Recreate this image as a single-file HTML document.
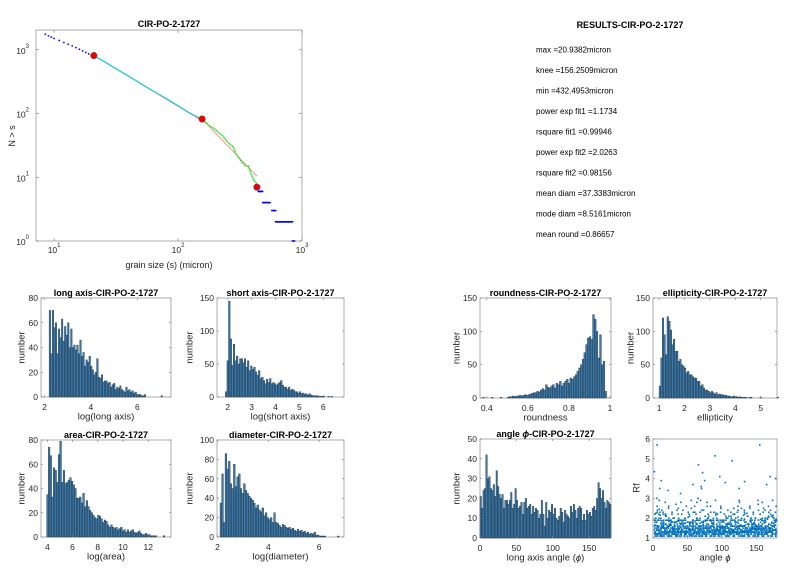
<!DOCTYPE html>
<html><head><meta charset="utf-8"><style>
body{margin:0;background:#fff;}
svg{display:block;font-family:"Liberation Sans",Arial,sans-serif;}
</style></head><body>
<svg id="fig" width="804" height="570" viewBox="0 0 804 570" xmlns="http://www.w3.org/2000/svg"></svg>
<script>
// ---- main CCDF data ----
const headS=[8.5,9,9.5,10,11,12,13,14,15,16,17,18,19,20];
const headN=[1750,1650,1580,1500,1400,1300,1220,1150,1080,1020,960,910,860,820];
const midS=[21,25,30,40,50,60,80,100,120,140,156];
const midN=[800,665,535,385,295,238,172,132,106,90,82];
const tailS=[156,180,200,230,260,280,290,310,330,350,370,390,410,430];
const tailN=[80,64,56,44,33,30,24,20,17,15,15,11,9,8];
const endS=[450,460,470,490,500,520,540,580,600,620,640,660,680,700,720,740,760,780,800,820,850];
const endN=[6,6,6,4,4,4,4,3,3,2,2,2,2,2,2,2,2,2,2,2,1];
const kneeS=[20.9382,156.2509,432.4953];
const kneeN=[810,82,7];
const fitExp=[1.1734,2.0263];
// ---- histogram data ----
const longVals=[70,35,70,56,60,35,55,48,63,45,57,50,60,40,55,40,42,38,42,35,46,33,36,25,30,28,33,25,22,18,20,31,16,15,18,12,13,13,11,12,8,10,11,6,8,7,9,6,5,4,8,5,6,4,5,3,4,2,2,2,1,1,2,0,0,0,0,0,0,0,0,0,0,1];
const shortVals=[8,55,145,88,48,80,55,62,50,58,58,52,58,45,55,40,47,42,45,38,33,40,28,30,25,20,27,22,28,20,22,20,18,20,22,25,18,15,15,12,15,10,12,10,8,8,6,8,5,6,4,5,3,5,3,2,2,2,2,1,1,1,1,0,0,1,0,1];
const areaVals=[35,74,67,33,57,55,45,68,79,45,55,44,45,47,49,46,43,40,32,32,33,28,36,25,30,25,22,20,18,16,15,18,17,15,12,14,13,10,8,10,8,7,8,6,7,8,5,6,4,6,4,5,6,4,3,4,5,3,2,2,3,2,2,1,1,1,1,0,0,0,0,1];
const diamVals=[35,65,15,86,70,78,55,50,75,52,62,65,50,45,55,48,45,42,40,38,35,30,33,28,26,30,22,25,20,18,20,15,25,15,14,12,10,13,12,10,9,10,8,9,7,6,8,6,7,5,6,4,5,3,4,3,5,2,2,1,1,1,1,0,0,0,0,0,0,0,1];
const roundVals=[1,0,0,0,0,1,0,0,0,0,1,0,0,0,1,2,2,3,2,3,3,4,3,4,5,4,5,6,7,8,8,10,9,12,14,12,20,16,15,18,20,15,22,20,25,18,22,25,28,22,30,28,32,35,40,45,50,58,68,80,90,92,88,125,118,100,60,95,50,55,10];
const ellipVals=[18,60,120,95,65,122,115,102,80,88,70,70,55,58,50,48,45,38,40,35,35,32,30,30,25,25,18,20,15,12,12,10,8,10,8,6,8,5,6,5,5,4,4,3,3,2,2,3,2,2,1,2,1,1,1,1,0,1,1,0,0,0,0,0,1,0,0,0,0,0,0,0,0,0,0,1];
const angleVals=[21,15,24,25,42,30,31,25,24,27,21,34,26,22,20,22,15,19,19,17,19,23,15,17,25,19,15,16,18,12,18,20,15,16,17,12,16,13,15,14,10,12,19,12,6,18,10,14,13,17,12,15,10,9,11,15,13,8,14,12,11,10,16,13,17,14,10,15,16,15,9,12,9,14,12,13,11,15,16,14,20,28,25,20,24,18,15,19,18,17];
// ---- scatter data ----
const scAngle=[2,3,5,6,8,9,11,12,14,15,17,18,20,22,23,25,27,28,30,31,33,35,36,38,40,41,43,45,46,48,50,52,53,55,57,58,60,62,63,65,67,68,70,72,73,75,77,78,80,82,83,85,87,88,90,92,93,95,97,98,100,102,103,105,107,108,110,112,113,115,117,118,120,122,123,125,127,128,130,132,133,135,137,138,140,142,143,145,147,148,150,152,153,155,157,158,160,162,163,165,167,168,170,172,173,175,177,178];
const scRf1=[1.4,1.8,1.2,2.6,1.5,1.3,1.9,1.1,1.6,2.2,1.3,1.7,1.2,1.5,2.0,1.4,1.1,1.8,1.3,1.6,1.2,2.4,1.5,1.3,1.7,1.1,1.4,1.9,1.2,1.6,1.3,1.5,2.1,1.2,1.4,1.8,1.1,1.6,1.3,1.5,1.2,1.9,1.4,1.1,1.7,1.3,1.5,1.2,2.2,1.4,1.1,1.6,1.3,1.8,1.2,1.5,1.4,1.1,1.7,1.3,1.6,1.2,1.9,1.4,1.1,1.5,1.3,1.8,1.2,1.6,1.4,1.1,1.7,1.3,1.5,1.2,1.9,1.4,1.6,1.1,1.3,1.8,1.5,1.2,1.4,2.0,1.3,1.6,1.1,1.7,1.4,1.2,1.9,1.5,1.3,1.6,2.3,1.2,1.8,1.4,1.1,1.7,1.5,2.1,1.3,1.6,1.9,1.2];
const scRf2=[2.2,1.3,3.0,1.6,2.0,3.5,1.4,2.4,1.2,1.5,2.8,1.3,1.9,2.6,1.2,1.7,2.3,1.4,2.0,1.2,1.8,1.5,2.5,1.9,1.3,2.2,1.6,1.3,2.0,1.4,1.8,1.2,1.6,2.5,1.9,1.3,2.3,1.5,2.8,1.9,1.6,1.3,2.4,1.8,1.5,2.1,1.3,2.6,1.5,1.9,2.3,1.3,2.0,1.5,2.9,1.7,2.2,1.4,1.9,2.5,1.3,1.8,1.4,2.1,1.7,2.4,1.5,1.3,2.0,1.4,1.9,2.2,1.3,1.8,2.4,1.6,1.3,2.0,1.5,2.3,1.8,1.4,2.1,1.6,2.5,1.3,1.9,2.2,1.5,2.0,1.3,2.7,1.6,2.2,1.9,2.8,1.5,2.4,1.3,2.0,2.6,1.5,2.2,1.8,2.9,1.4,2.3,2.6];
const scRf3=[1.1,2.0,1.6,1.2,2.9,1.1,1.6,1.3,1.9,1.1,1.5,2.1,1.3,1.1,1.4,1.9,1.3,1.2,1.6,1.4,1.1,1.3,1.2,1.6,1.4,1.3,1.9,1.2,1.5,1.1,2.3,1.4,1.3,1.1,1.6,1.2,1.4,1.9,1.2,1.1,1.4,1.6,1.2,1.5,1.3,1.1,1.7,1.4,1.2,1.3,1.5,1.9,1.1,1.3,1.4,1.2,1.6,1.3,1.2,1.1,1.5,1.3,1.2,1.3,1.5,1.1,1.2,1.6,1.4,1.1,1.3,1.5,1.2,1.4,1.1,1.3,1.4,1.2,1.1,1.6,1.5,1.2,1.3,1.1,1.2,1.6,1.5,1.3,1.4,1.2,1.6,1.1,1.3,1.4,1.1,1.2,1.4,1.6,1.3,1.2,1.5,1.3,1.1,1.4,1.2,1.9,1.4,1.3];
const outAngle=[2,6,12,22,40,58,66,70,72,75,90,97,105,115,125,133,155,165,170,178];
const outRf=[4.35,5.7,3.9,3.4,3.25,3.7,4.7,3.6,4.3,3.9,5.15,4.1,3.8,4.9,3.5,3.85,5.7,3.7,4.1,4.0];

const svg=document.getElementById('fig');
const NS='http://www.w3.org/2000/svg';
function mk(tag,attrs,parent){const e=document.createElementNS(NS,tag);for(const k in attrs)e.setAttribute(k,attrs[k]);(parent||svg).appendChild(e);return e;}
function txt(s,x,y,opt,parent){const t=mk('text',Object.assign({x:x,y:y,'font-size':8.5,fill:'#262626','text-anchor':'middle','dominant-baseline':'central'},opt||{}),parent);t.textContent=s;return t;}

// ===== Main plot =====
const M={x0:36,x1:302,y0:30,y1:241};
const lx0=0.854,lx1=3.0,ly0=0,ly1=3.31;
const mx=s=>M.x0+(Math.log10(s)-lx0)/(lx1-lx0)*(M.x1-M.x0);
const my=n=>M.y1-(Math.log10(n)-ly0)/(ly1-ly0)*(M.y1-M.y0);
const gMain=mk('g',{});


mk('rect',{x:M.x0,y:M.y0,width:M.x1-M.x0,height:M.y1-M.y0,fill:'#fff',stroke:'#999','stroke-width':0.8},gMain);
[1,2,3].forEach(p=>{const x=mx(Math.pow(10,p));mk('line',{x1:x,y1:M.y1,x2:x,y2:M.y1-3,stroke:'#777','stroke-width':0.6},gMain);mk('line',{x1:x,y1:M.y0,x2:x,y2:M.y0+3,stroke:'#777','stroke-width':0.6},gMain);
 const t=txt('',x,250,{},gMain);t.innerHTML='10<tspan dy="-4" font-size="6">'+p+'</tspan>';});
[0,1,2,3].forEach(p=>{const y=my(Math.pow(10,p));mk('line',{x1:M.x0,y1:y,x2:M.x0+3,y2:y,stroke:'#777','stroke-width':0.6},gMain);mk('line',{x1:M.x1,y1:y,x2:M.x1-3,y2:y,stroke:'#777','stroke-width':0.6},gMain);
 const t=txt('',29,y+1,{'text-anchor':'end'},gMain);t.innerHTML='10<tspan dy="-4" font-size="6">'+p+'</tspan>';});
headS.forEach((s,i)=>{const c=mk('circle',{cx:mx(s),cy:my(headN[i]),r:0.9,fill:'#0000ff'},gMain);});
const f1=mk('line',{x1:mx(kneeS[0]),y1:my(kneeN[0]),x2:mx(kneeS[1]),y2:my(kneeN[0]*Math.pow(kneeS[1]/kneeS[0],-fitExp[0])),stroke:'#ff5555','stroke-width':0.6},gMain);

const f2=mk('line',{x1:mx(kneeS[1]),y1:my(kneeN[1]),x2:mx(kneeS[2]),y2:my(kneeN[1]*Math.pow(kneeS[2]/kneeS[1],-fitExp[1])),stroke:'#ff5555','stroke-width':0.6},gMain);

const pc=mk('polyline',{points:midS.map((s,i)=>mx(s)+','+my(midN[i])).join(' '),fill:'none',stroke:'#22c8d8','stroke-width':1.3},gMain);

const pg=mk('polyline',{points:tailS.map((s,i)=>mx(s)+','+my(tailN[i])).join(' '),fill:'none',stroke:'#22dd22','stroke-width':1.5,'stroke-dasharray':'1.5 0.6'},gMain);

endS.forEach((s,i)=>{const r=mk('rect',{x:mx(s)-1.5,y:my(endN[i])-0.8,width:3.5,height:1.6,fill:'#0000ff'},gMain);});
kneeS.forEach((s,i)=>{const c=mk('circle',{cx:mx(s),cy:my(kneeN[i]),r:3.3,fill:'#ee0000',stroke:'#555','stroke-width':0.5},gMain);});
let t=txt('CIR-PO-2-1727',169,24,{'font-weight':'bold','font-size':9,fill:'#000'});
t=txt('grain size (s) (micron)',169,265,{'font-size':9});
t=txt('N > s',12,136,{'font-size':9,transform:'rotate(-90 12 136)'});

// ===== Results =====
t=txt('RESULTS-CIR-PO-2-1727',630,25,{'font-weight':'bold','font-size':9,fill:'#000'});
const res=['max =20.9382micron','knee =156.2509micron','min =432.4953micron','power exp fit1 =1.1734','rsquare fit1 =0.99946','power exp fit2 =2.0263','rsquare fit2 =0.98156','mean diam =37.3383micron','mode diam =8.5161micron','mean round =0.86657'];
res.forEach((r,i)=>{const e=txt(r,536,50+i*20.5,{'text-anchor':'start','font-size':8,fill:'#000'});});

// ===== Histograms =====
function hist(name,box,xmin,xmax,ymax,vals,binStart,binW,xticks,yticks,title,xlabel,ylabelX){
 const g=mk('g',{});
 
 
 const X=v=>box.x0+(v-xmin)/(xmax-xmin)*(box.x1-box.x0);
 const Y=v=>box.y1-v/ymax*(box.y1-box.y0);
 mk('rect',{x:box.x0,y:box.y0,width:box.x1-box.x0,height:box.y1-box.y0,fill:'#fff',stroke:'#999','stroke-width':0.8},g);
 vals.forEach((v,i)=>{if(v<=0)return;const a=X(binStart+i*binW),b=X(binStart+(i+1)*binW);
  const r=mk('rect',{x:a,y:Y(v),width:b-a,height:Y(0)-Y(v),fill:'#3d79a8',stroke:'#1b2f40','stroke-width':0.4},g);
  });
 xticks.forEach(v=>{const x=X(v);mk('line',{x1:x,y1:box.y1,x2:x,y2:box.y1-2,stroke:'#777','stroke-width':0.6},g);mk('line',{x1:x,y1:box.y0,x2:x,y2:box.y0+2,stroke:'#777','stroke-width':0.6},g);
  const e=txt(String(v),x,box.y1+10,{},g);});
 yticks.forEach(v=>{const y=Y(v);mk('line',{x1:box.x0,y1:y,x2:box.x0+2,y2:y,stroke:'#777','stroke-width':0.6},g);mk('line',{x1:box.x1,y1:y,x2:box.x1-2,y2:y,stroke:'#777','stroke-width':0.6},g);
  const e=txt(String(v),box.x0-3,y,{'text-anchor':'end'},g);});
 const cx=(box.x0+box.x1)/2;
 let e=txt('',cx,box.y0-5,{'font-weight':'bold','font-size':9,fill:'#000'},g);e.innerHTML=title;
 e=txt('',cx,box.y1+20,{'font-size':9.5},g);e.innerHTML=xlabel;
 const cy=(box.y0+box.y1)/2;
 e=txt('number',ylabelX,cy,{'font-size':9.5,transform:'rotate(-90 '+ylabelX+' '+cy+')'},g);
 return {g,X,Y};
}
hist('long-axis-histogram',{x0:41,x1:171,y0:298,y1:397},1.85,7.45,80,longVals,2.2,0.066,[2,4,6],[0,20,40,60,80],'long axis-CIR-PO-2-1727','log(long axis)',22);
hist('short-axis-histogram',{x0:217,x1:344,y0:298,y1:397},1.55,6.87,150,shortVals,1.9,0.066,[2,3,4,5,6],[0,50,100,150],'short axis-CIR-PO-2-1727','log(short axis)',190);
hist('area-histogram',{x0:41,x1:171,y0:440,y1:537},3.5,13.8,80,areaVals,3.95,0.13,[4,6,8,10,12],[0,20,40,60,80],'area-CIR-PO-2-1727','log(area)',22);
hist('diameter-histogram',{x0:217,x1:344,y0:440,y1:537},1.98,6.98,100,diamVals,2.1,0.066,[2,4,6],[0,20,40,60,80,100],'diameter-CIR-PO-2-1727','log(diameter)',190);
hist('roundness-histogram',{x0:480,x1:611,y0:298,y1:398},0.367,1.005,150,roundVals,0.38,0.0085,[0.4,0.6,0.8,1],[0,50,100,150],'roundness-CIR-PO-2-1727','roundness',457);
hist('ellipticity-histogram',{x0:653,x1:777,y0:298,y1:398},0.76,5.64,150,ellipVals,1.0,0.062,[1,2,3,4,5],[0,50,100,150],'ellipticity-CIR-PO-2-1727','ellipticity',631);
hist('angle-histogram',{x0:480,x1:611,y0:439,y1:538},0,180,50,angleVals,0,2,[0,50,100,150],[0,10,20,30,40,50],'angle <tspan font-style="italic">ϕ</tspan>-CIR-PO-2-1727','long axis angle (<tspan font-style="italic">ϕ</tspan>)',457);

// ===== Scatter =====
const S={x0:653,x1:777,y0:439,y1:538};
const gs=mk('g',{});


const SX=v=>S.x0+v/180*(S.x1-S.x0), SY=v=>S.y1-(v-1)/5*(S.y1-S.y0);
mk('rect',{x:S.x0,y:S.y0,width:S.x1-S.x0,height:S.y1-S.y0,fill:'#fff',stroke:'#999','stroke-width':0.8},gs);
function dot(a,r){const c=mk('rect',{x:SX(a)-0.8,y:SY(r)-0.8,width:1.6,height:1.6,fill:'#0072bd'},gs);}
scAngle.forEach((a,i)=>{const j=(i+37)%scAngle.length,k=(i+71)%scAngle.length;
 dot(a,scRf1[i]);dot(a+0.7,scRf2[i]);dot(a+1.2,scRf3[i]);dot(a+0.4,(scRf1[i]+scRf3[i])/2);dot(a+1.0,(scRf2[i]+scRf3[i])/2);
 dot(a+0.2,scRf1[j]);dot(a+0.9,scRf3[k]);dot(a+0.5,scRf2[k]);dot(a+1.3,(scRf1[k]+scRf2[j])/2);dot(a+0.1,scRf3[j]);});
outAngle.forEach((a,i)=>dot(a,outRf[i]));
[0,50,100,150].forEach(v=>{const x=SX(v);mk('line',{x1:x,y1:S.y1,x2:x,y2:S.y1-2,stroke:'#777','stroke-width':0.6},gs);const e=txt(String(v),x,S.y1+10,{},gs);});
[1,2,3,4,5,6].forEach(v=>{const y=SY(v);mk('line',{x1:S.x0,y1:y,x2:S.x0+2,y2:y,stroke:'#777','stroke-width':0.6},gs);const e=txt(String(v),S.x0-3,y,{'text-anchor':'end'},gs);});
t=txt('',715,558,{'font-size':9.5},gs);t.innerHTML='angle <tspan font-style="italic">ϕ</tspan>';
t=txt('Rf',637,488,{'font-size':9.5,transform:'rotate(-90 637 488)'},gs);
</script>
</body></html>
